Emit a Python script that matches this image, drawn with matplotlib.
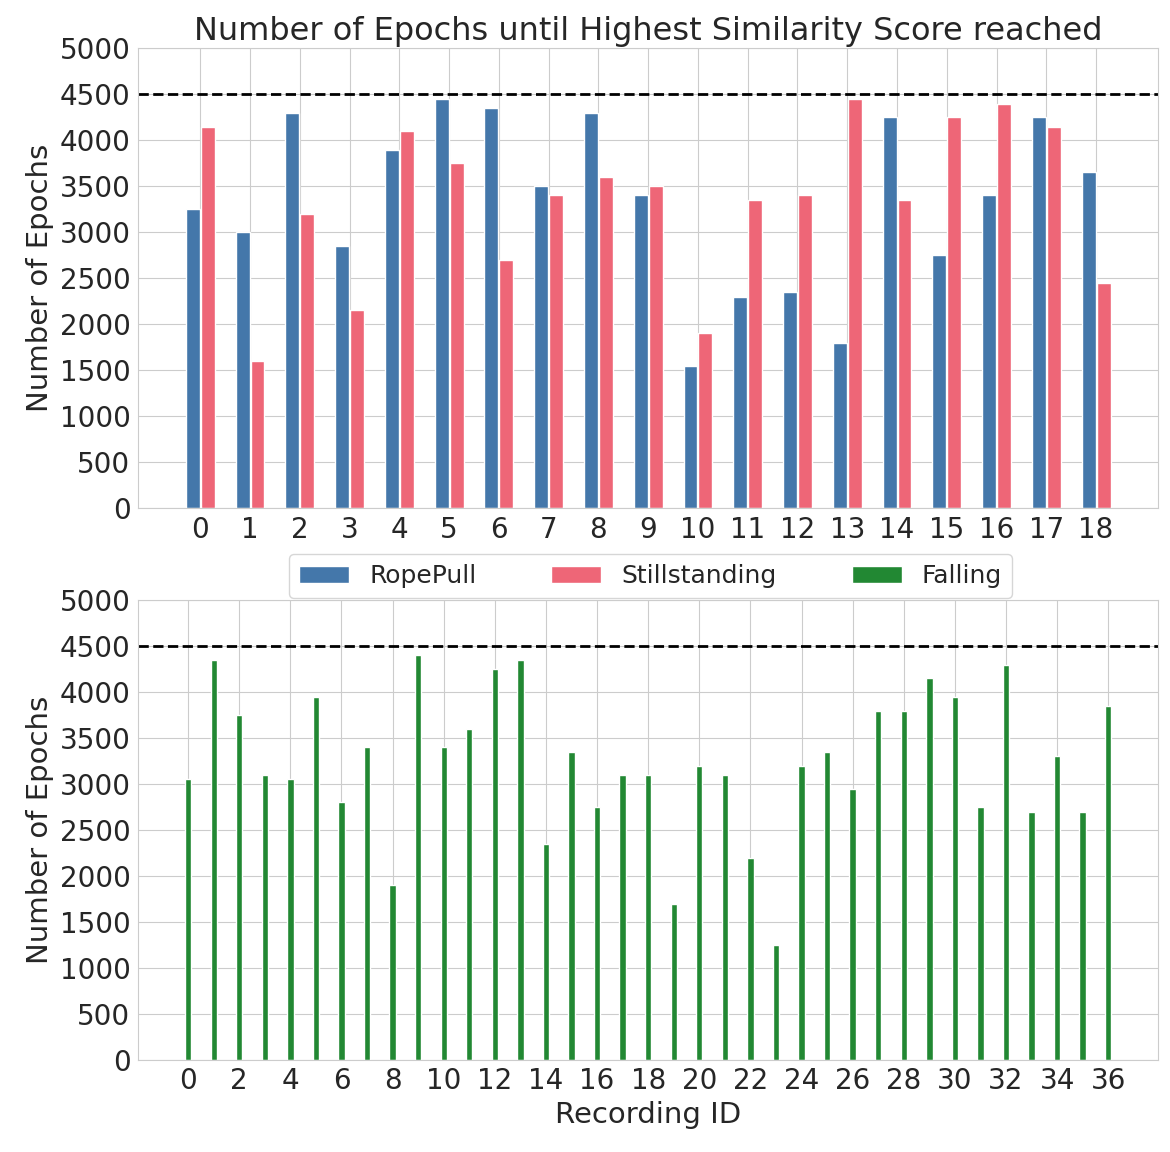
import matplotlib
matplotlib.use("Agg")
import matplotlib.pyplot as plt
import numpy as np
import seaborn as sns

sns.set_style("whitegrid")
plt.rcParams["font.size"] = 20

rope_pull = [3250, 3000, 4300, 2850, 3900, 4450, 4350, 3500, 4300, 3400,
             1550, 2300, 2350, 1800, 4250, 2750, 3400, 4250, 3650]
still = [4150, 1600, 3200, 2150, 4100, 3750, 2700, 3400, 3600, 3500,
         1900, 3350, 3400, 4450, 3350, 4250, 4400, 4150, 2450]
falling = [3050, 4350, 3750, 3100, 3050, 3950, 2800, 3400, 1900, 4400,
           3400, 3600, 4250, 4350, 2350, 3350, 2750, 3100, 3100, 1700,
           3200, 3100, 2200, 1250, 3200, 3350, 2950, 3800, 3800, 4150,
           3950, 2750, 4300, 2700, 3300, 2700, 3850]
limit = 4500

blue, red, green = "#4477aa", "#ee6677", "#228833"

fig = plt.figure(figsize=(11.7, 11.52), dpi=100)
ax1 = fig.add_axes([0.118, 0.559, 0.872, 0.399])
ax2 = fig.add_axes([0.118, 0.080, 0.872, 0.399])

x1 = np.arange(len(rope_pull))
w = 0.28
b1 = ax1.bar(x1 - 0.15, rope_pull, w, color=blue, label="RopePull")
b2 = ax1.bar(x1 + 0.15, still, w, color=red, label="Stillstanding")
ax1.axhline(limit, color="black", ls="--", lw=2)
ax1.set_xticks(x1)
ax1.set_xlim(-1.25, 19.25)
ax1.set_ylim(0, 5000)
ax1.set_yticks(range(0, 5001, 500))
ax1.set_ylabel("Number of Epochs", fontsize=21)
ax1.set_title("Number of Epochs until Highest Similarity Score reached", fontsize=23, pad=6)

x2 = np.arange(len(falling))
b3 = ax2.bar(x2, falling, 0.25, color=green, label="Falling")
ax2.axhline(limit, color="black", ls="--", lw=2)
ax2.set_xticks(x2[::2])
ax2.set_xlim(-1.96, 37.96)
ax2.set_ylim(0, 5000)
ax2.set_yticks(range(0, 5001, 500))
ax2.set_ylabel("Number of Epochs", fontsize=21)
ax2.set_xlabel("Recording ID", fontsize=21)

for ax in (ax1, ax2):
    ax.tick_params(labelsize=20, pad=2)

fig.legend(handles=[b1, b2, b3], loc="center", bbox_to_anchor=(0.556, 0.5),
           ncol=3, fontsize=18, frameon=True, columnspacing=3)
fig.savefig("out.png")
